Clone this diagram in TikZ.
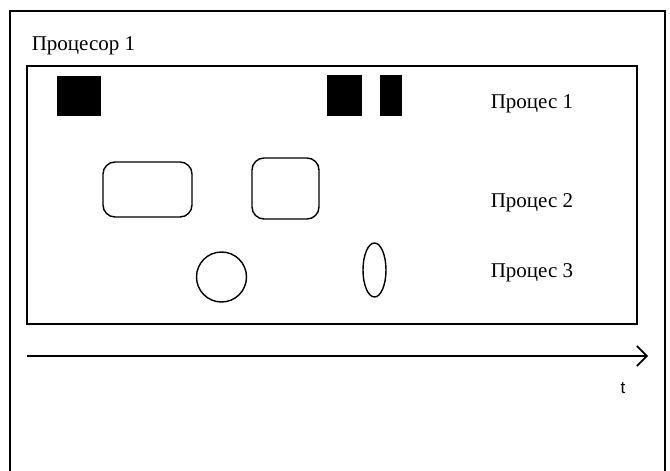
\documentclass[tikz,border=0pt]{standalone}
\usepackage{fontspec}
\setmainfont{Liberation Serif}
\newfontfamily\axisfont{Liberation Sans}
\usetikzlibrary{arrows.meta, shapes.geometric}

\begin{document}
\begin{tikzpicture}[x=1pt, y=-1pt, line width=1.6pt,
    blk/.style={draw=none, fill=black, inner sep=0pt},
    task/.style={draw, rounded corners=12pt, inner sep=0pt, line width=1.4pt},
    lbl/.style={anchor=base west, inner sep=0pt, font=\fontsize{21}{25}\selectfont}]
    \useasboundingbox (0,0) rectangle (670,471);

    % Outer frame of the processor
    \draw (10,471) -- (10,11) -- (665,11) -- (665,471);
    \node[lbl] (cpu) at (31,50) {Процесор 1};

    % Inner frame
    \draw (27,66) rectangle (637,324);

    % Process 1: black slices
    \node[blk, minimum width=44pt, minimum height=40pt] (a1) at (79,96) {};
    \node[blk, minimum width=35pt, minimum height=41pt] (a2) at (344.5,95.5) {};
    \node[blk, minimum width=22pt, minimum height=41pt] (a3) at (391,95.5) {};

    % Process 2: rounded slices
    \node[task, minimum width=89pt, minimum height=55pt] (b1) at (147.5,189.5) {};
    \node[task, minimum width=67pt, minimum height=61pt] (b2) at (285.5,188.5) {};

    % Process 3: circle and ellipse
    \node[circle, draw, line width=1.4pt, minimum size=50pt, inner sep=0pt] (c1) at (221.5,277) {};
    \node[ellipse, draw, line width=1.4pt, minimum width=23pt, minimum height=54pt, inner sep=0pt] (c2) at (374.5,270) {};

    % Labels of the processes
    \node[lbl] (l1) at (490,108) {Процес 1};
    \node[lbl] (l2) at (490,207) {Процес 2};
    \node[lbl] (l3) at (490,277) {Процес 3};

    % Time axis
    \coordinate (t0) at (27,356);
    \coordinate (t1) at (648,356);
    \draw[-{Straight Barb[length=10pt, width=20pt]}] (t0) -- (t1);
    \node[anchor=base, inner sep=0pt, font=\axisfont\fontsize{17}{20}\selectfont] (tl) at (623,393) {t};
\end{tikzpicture}
\end{document}
